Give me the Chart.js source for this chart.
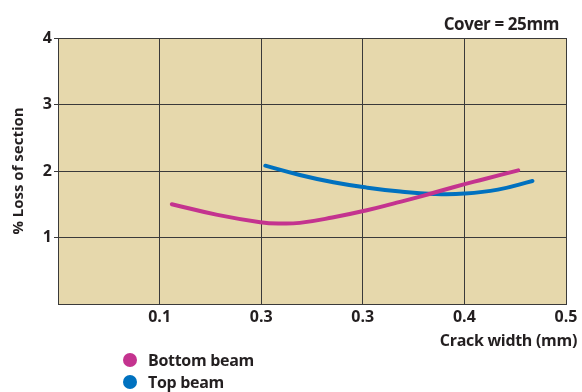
<!DOCTYPE html>
<html><head><meta charset="utf-8">
<script src="https://cdn.jsdelivr.net/npm/chart.js@4/dist/chart.umd.min.js"></script>
<style>
html,body{margin:0;padding:0;background:#fff;}
#wrap{position:relative;width:582px;height:392px;}
.t{position:absolute;font-family:"Open Sans",sans-serif;font-weight:bold;color:#231f20;white-space:nowrap;}
#cover{right:23px;top:13px;font-size:17px;line-height:22px;letter-spacing:-0.4px;}
#xtitle{right:5px;top:329px;font-size:16px;line-height:22px;letter-spacing:-0.3px;}
#legend{left:123px;top:349px;font-size:16px;letter-spacing:-0.3px;}
#legend div{height:22px;line-height:22px;display:flex;align-items:center;}
#legend span.dot{display:inline-block;width:14px;height:14px;border-radius:50%;margin-right:11px;}
</style></head>
<body><div id="wrap"><canvas id="c" width="582" height="392"></canvas>
<div id="cover" class="t">Cover = 25mm</div>
<div id="xtitle" class="t">Crack width (mm)</div>
<div id="legend" class="t"></div></div>
<script>
const xTickLabels = ["", "0.1", "0.3", "0.3", "0.4", "0.5"];
const yTickLabels = ["", "1", "2", "3", "4"];
const bottomX = [0.112, 0.157, 0.199, 0.219, 0.238, 0.270, 0.304, 0.330, 0.360, 0.390, 0.420, 0.453];
const bottomY = [1.50, 1.34, 1.23, 1.21, 1.22, 1.30, 1.41, 1.51, 1.63, 1.76, 1.88, 2.01];
const topX = [0.204, 0.238, 0.271, 0.304, 0.337, 0.370, 0.400, 0.433, 0.467];
const topY = [2.08, 1.94, 1.83, 1.75, 1.69, 1.655, 1.66, 1.72, 1.85];
const seriesNames = ["Bottom beam", "Top beam"];
const seriesColors = ["#c4338f", "#0071bf"];

const toPts = (xs, ys) => xs.map((x, i) => ({x: x, y: ys[i]}));
const FONT = '"Open Sans", sans-serif';
const TXT = '#231f20';

const bgPlugin = {
  id: 'bg',
  beforeDraw(chart) {
    const a = chart.chartArea, ctx = chart.ctx;
    ctx.save(); ctx.fillStyle = '#e6d8ac';
    ctx.fillRect(a.left, a.top, a.right - a.left, a.bottom - a.top);
    ctx.restore();
  }
};

const chart = new Chart(document.getElementById('c'), {
  type: 'line',
  data: {
    datasets: [
      {label: seriesNames[0], data: toPts(bottomX, bottomY), borderColor: seriesColors[0], backgroundColor: seriesColors[0], borderWidth: 4, pointRadius: 0, tension: 0.45, borderCapStyle: 'round', fill: false},
      {label: seriesNames[1], data: toPts(topX, topY), borderColor: seriesColors[1], backgroundColor: seriesColors[1], borderWidth: 4, pointRadius: 0, tension: 0.45, borderCapStyle: 'round', fill: false}
    ]
  },
  options: {
    responsive: false, animation: false,
    layout: {padding: {top: 38, right: 16, bottom: 38, left: 0}},
    plugins: {legend: {display: false}, tooltip: {enabled: false}},
    scales: {
      x: {
        type: 'linear', min: 0, max: 0.5,
        afterBuildTicks(s) { s.ticks = xTickLabels.map((t, i) => ({value: i * 0.1})); },
        ticks: {callback: (v, i) => xTickLabels[i], font: {family: FONT, weight: 'bold', size: 16}, color: TXT, padding: 4, maxRotation: 0, autoSkip: false},
        grid: {color: '#3a3a3a', lineWidth: 1, tickLength: 0, drawTicks: false},
        border: {color: '#3a3a3a', width: 1},
        afterFit(s) { s.height = 50; }
      },
      y: {
        min: 0, max: 4,
        afterBuildTicks(s) { s.ticks = yTickLabels.map((t, i) => ({value: i})); },
        ticks: {callback: (v, i) => yTickLabels[i], font: {family: FONT, weight: 'bold', size: 16}, color: TXT, padding: 2},
        grid: {color: '#3a3a3a', lineWidth: 1, tickLength: 4, tickColor: c => c.index === 0 ? 'rgba(0,0,0,0)' : '#3a3a3a'},
        border: {color: '#3a3a3a', width: 1},
        title: {display: true, text: '% Loss of section', font: {family: FONT, weight: 'bold', size: 15}, color: TXT, padding: {top: 10, bottom: 0}},
        afterFit(s) { s.width = 58; }
      }
    }
  },
  plugins: [bgPlugin]
});

const leg = document.getElementById('legend');
chart.data.datasets.forEach(d => {
  const row = document.createElement('div');
  row.innerHTML = '<span class="dot" style="background:' + d.borderColor + '"></span>' + d.label;
  leg.appendChild(row);
});
</script></body></html>
